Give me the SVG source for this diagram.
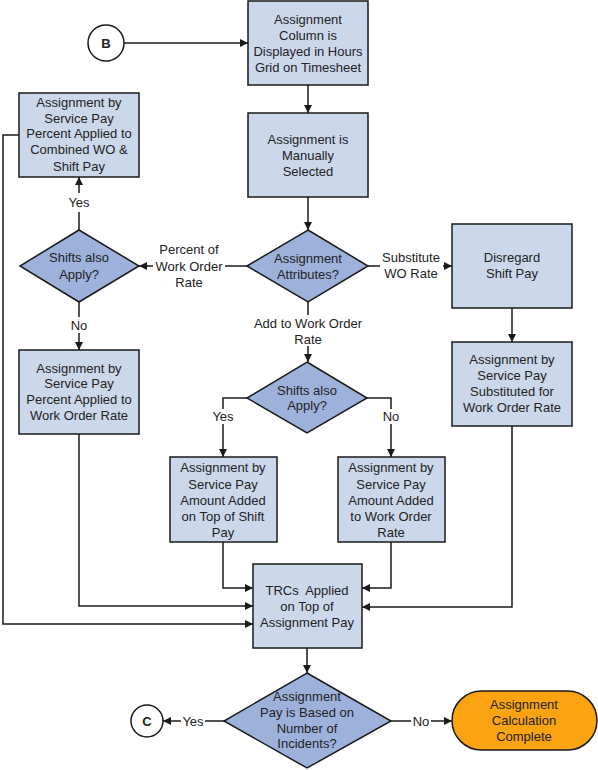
<svg xmlns="http://www.w3.org/2000/svg" width="598" height="770" viewBox="0 0 598 770">
<defs>
<style>
.box{fill:#CBD8EC;stroke:#1a1a1a;stroke-width:1.5}
.dia{fill:#9CB2DA;stroke:#1a1a1a;stroke-width:1.5}
.term{fill:#FCA311;stroke:#1a1a1a;stroke-width:1.5}
.circ{fill:#fff;stroke:#1a1a1a;stroke-width:1.5}
.t{font-family:"Liberation Sans",Arial,sans-serif;font-size:13px;fill:#222;text-anchor:middle}
.b{font-weight:bold}
.c{fill:none;stroke:#1a1a1a;stroke-width:1.5}
.a{marker-end:url(#arr)}
</style>
<marker id="arr" viewBox="0 0 10 10" refX="10" refY="5" markerWidth="9" markerHeight="8" markerUnits="userSpaceOnUse" orient="auto">
<path d="M0,0 L10,5 L0,10 z" fill="#1a1a1a"/>
</marker>
</defs>
<rect width="598" height="770" fill="#fff"/>

<g id="connectors">
<path class="c a" d="M124,43 H248"/>
<path class="c a" d="M308,85 V113"/>
<path class="c a" d="M308,197 V230"/>
<path class="c" d="M247,266 H225"/>
<path class="c a" d="M153,266 H139"/>
<path class="c" d="M79,230 V212"/>
<path class="c a" d="M79,193 V177"/>
<path class="c" d="M79,302 V317"/>
<path class="c a" d="M79,333 V350"/>
<path class="c a" d="M19,135 H3 V624 H253"/>
<path class="c a" d="M79,434 V606 H253"/>
<path class="c" d="M308,302 V315"/>
<path class="c a" d="M308,346 V362"/>
<path class="c" d="M368,266 H380"/>
<path class="c a" d="M443,266 H452"/>
<path class="c" d="M247,398 H223 V409"/>
<path class="c a" d="M223,424 V457"/>
<path class="c" d="M367,398 H391 V409"/>
<path class="c a" d="M391,424 V457"/>
<path class="c a" d="M223,542 V588 H253"/>
<path class="c a" d="M391,542 V588 H362"/>
<path class="c a" d="M512,308 V342"/>
<path class="c a" d="M512,426 V607 H362"/>
<path class="c a" d="M307,648 V673"/>
<path class="c" d="M224,721 H205"/>
<path class="c a" d="M181,721 H163"/>
<path class="c" d="M391,721 H411"/>
<path class="c a" d="M431,721 H452"/>
</g>

<g id="labels">
<text class="t" x="189" y="254">Percent of</text>
<text class="t" x="189" y="271">Work Order</text>
<text class="t" x="189" y="287">Rate</text>
<text class="t" x="79" y="207">Yes</text>
<text class="t" x="79" y="330">No</text>
<text class="t" x="308" y="328">Add to Work Order</text>
<text class="t" x="308" y="344">Rate</text>
<text class="t" x="411" y="262">Substitute</text>
<text class="t" x="411" y="278">WO Rate</text>
<text class="t" x="223" y="421">Yes</text>
<text class="t" x="391" y="421">No</text>
<text class="t" x="193" y="726">Yes</text>
<text class="t" x="421" y="726">No</text>
</g>

<g id="nodeB">
<circle class="circ" cx="106" cy="43" r="18"/>
<text class="t b" x="106" y="48">B</text>
</g>

<g id="box1">
<rect class="box" x="248" y="1" width="120" height="84"/>
<text class="t" x="308" y="24">Assignment</text>
<text class="t" x="308" y="40">Column is</text>
<text class="t" x="308" y="56">Displayed in Hours</text>
<text class="t" x="308" y="72">Grid on Timesheet</text>
</g>

<g id="box2">
<rect class="box" x="248" y="113" width="120" height="84"/>
<text class="t" x="308" y="144">Assignment is</text>
<text class="t" x="308" y="160">Manually</text>
<text class="t" x="308" y="176">Selected</text>
</g>

<g id="attributes">
<polygon class="dia" points="308,230 368,266 308,302 247,266"/>
<text class="t" x="308" y="263">Assignment</text>
<text class="t" x="308" y="279">Attributes?</text>
</g>

<g id="leftBox1">
<rect class="box" x="19" y="93" width="120" height="84"/>
<text class="t" x="79" y="107">Assignment by</text>
<text class="t" x="79" y="123">Service Pay</text>
<text class="t" x="79" y="138">Percent Applied to</text>
<text class="t" x="79" y="154">Combined WO &amp;</text>
<text class="t" x="79" y="171">Shift Pay</text>
</g>

<g id="leftDiamond">
<polygon class="dia" points="79,230 139,266 79,302 20,266"/>
<text class="t" x="79" y="262">Shifts also</text>
<text class="t" x="79" y="279">Apply?</text>
</g>

<g id="leftBox2">
<rect class="box" x="19" y="350" width="120" height="84"/>
<text class="t" x="79" y="373">Assignment by</text>
<text class="t" x="79" y="388">Service Pay</text>
<text class="t" x="79" y="404">Percent Applied to</text>
<text class="t" x="79" y="420">Work Order Rate</text>
</g>

<g id="midDiamond">
<polygon class="dia" points="307,362 367,398 307,433 247,398"/>
<text class="t" x="307" y="395">Shifts also</text>
<text class="t" x="307" y="410">Apply?</text>
</g>

<g id="amtShift">
<rect class="box" x="170" y="457" width="107" height="85"/>
<text class="t" x="223" y="472">Assignment by</text>
<text class="t" x="223" y="489">Service Pay</text>
<text class="t" x="223" y="505">Amount Added</text>
<text class="t" x="223" y="521">on Top of Shift</text>
<text class="t" x="223" y="537">Pay</text>
</g>

<g id="amtWO">
<rect class="box" x="338" y="457" width="107" height="85"/>
<text class="t" x="391" y="472">Assignment by</text>
<text class="t" x="391" y="489">Service Pay</text>
<text class="t" x="391" y="505">Amount Added</text>
<text class="t" x="391" y="521">to Work Order</text>
<text class="t" x="391" y="537">Rate</text>
</g>

<g id="disregard">
<rect class="box" x="452" y="224" width="120" height="84"/>
<text class="t" x="512" y="262">Disregard</text>
<text class="t" x="512" y="278">Shift Pay</text>
</g>

<g id="substituted">
<rect class="box" x="452" y="342" width="120" height="84"/>
<text class="t" x="512" y="364">Assignment by</text>
<text class="t" x="512" y="380">Service Pay</text>
<text class="t" x="512" y="396">Substituted for</text>
<text class="t" x="512" y="412">Work Order Rate</text>
</g>

<g id="trcs">
<rect class="box" x="253" y="564" width="109" height="84"/>
<text class="t" x="307" y="595" xml:space="preserve">TRCs  Applied</text>
<text class="t" x="307" y="611">on Top of</text>
<text class="t" x="307" y="627">Assignment Pay</text>
</g>

<g id="finalDiamond">
<polygon class="dia" points="307,673 391,721 307,768 224,721"/>
<text class="t" x="307" y="701">Assignment</text>
<text class="t" x="307" y="717">Pay is Based on</text>
<text class="t" x="307" y="733">Number of</text>
<text class="t" x="307" y="748">Incidents?</text>
</g>

<g id="nodeC">
<circle class="circ" cx="147" cy="721" r="16"/>
<text class="t b" x="147" y="726">C</text>
</g>

<g id="terminator">
<rect class="term" x="452" y="691" width="145" height="59" rx="29.5" ry="29.5"/>
<text class="t" x="524" y="709">Assignment</text>
<text class="t" x="524" y="725">Calculation</text>
<text class="t" x="524" y="741">Complete</text>
</g>
</svg>
